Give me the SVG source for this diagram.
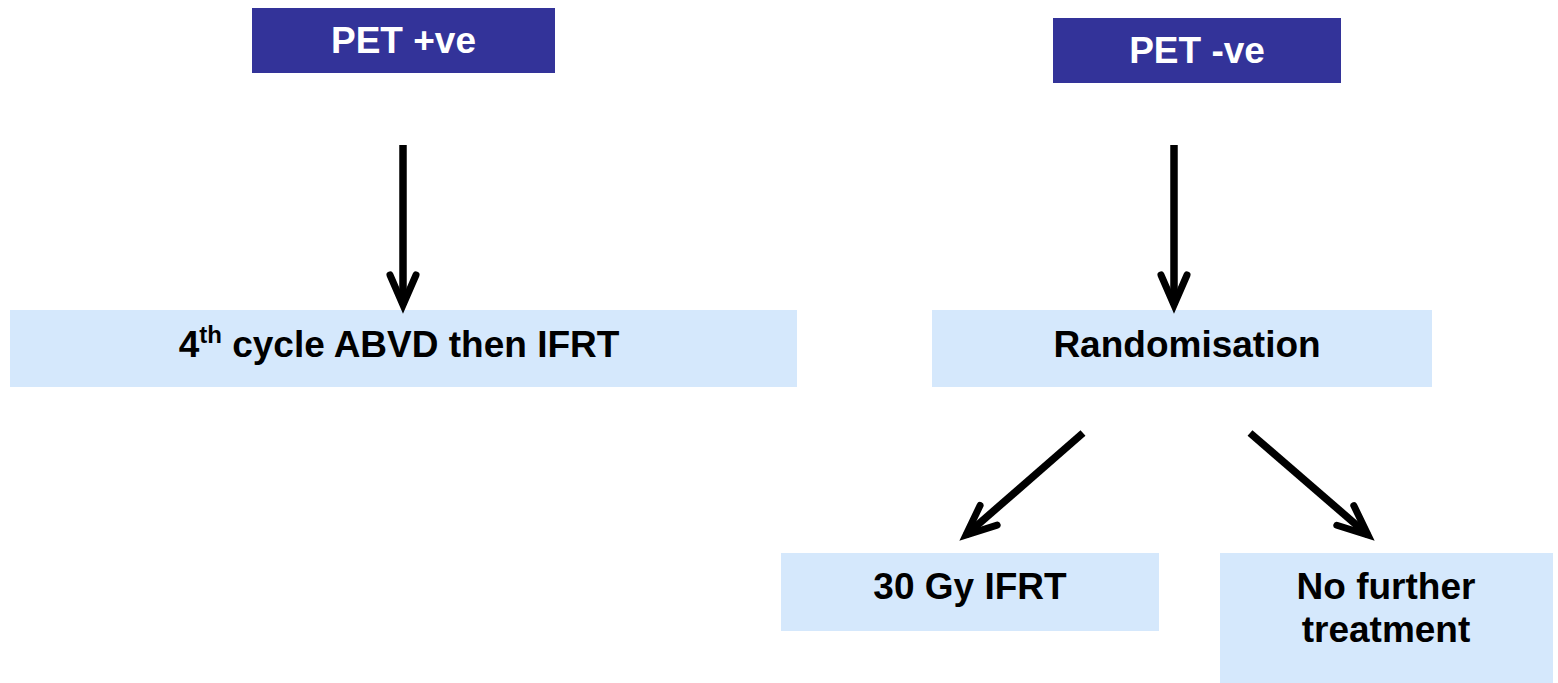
<svg xmlns="http://www.w3.org/2000/svg" width="1558" height="683" viewBox="0 0 1558 683">
<defs>
<marker id="chev" markerUnits="userSpaceOnUse" markerWidth="60" markerHeight="60" viewBox="-40 -30 50 60" refX="0" refY="0" orient="auto" overflow="visible">
<path d="M-30,-13 L0,0 L-30,13" fill="none" stroke="#000" stroke-width="7" stroke-linecap="round" stroke-linejoin="miter"/>
</marker>
</defs>
<style>
.dark{fill:#333399}
.light{fill:#D5E8FC}
.wt{fill:#fff;font-family:"Liberation Sans",Arial,sans-serif;font-weight:bold;font-size:37px;text-anchor:middle}
.bt{fill:#000;font-family:"Liberation Sans",Arial,sans-serif;font-weight:bold;font-size:37px;text-anchor:middle}
.conn{stroke:#000;stroke-width:7.5;fill:none;marker-end:url(#chev)}
</style>
<rect width="1558" height="683" fill="#fff"/>
<g id="pet-pos"><rect class="dark" x="252" y="8" width="303" height="65"/><text class="wt" x="403.5" y="53">PET +ve</text></g>
<g id="pet-neg"><rect class="dark" x="1053" y="18" width="288" height="65"/><text class="wt" x="1197" y="63">PET -ve</text></g>
<g id="abvd"><rect class="light" x="10" y="310" width="787" height="77"/><text class="bt" x="399" y="357">4<tspan font-size="24" dy="-14">th</tspan><tspan dy="14"> cycle ABVD then IFRT</tspan></text></g>
<g id="random"><rect class="light" x="932" y="310" width="500" height="77"/><text class="bt" x="1187" y="357">Randomisation</text></g>
<g id="ifrt"><rect class="light" x="781" y="553" width="378" height="78"/><text class="bt" x="970" y="599">30 Gy IFRT</text></g>
<g id="nofurther"><rect class="light" x="1220" y="553" width="333" height="130"/><text class="bt" x="1386" y="599">No further</text><text class="bt" x="1386" y="642">treatment</text></g>
<g id="connectors">
<line class="conn" x1="403" y1="145" x2="403" y2="305"/>
<line class="conn" x1="1174" y1="145" x2="1174" y2="305"/>
<line class="conn" x1="1083" y1="433" x2="966" y2="535"/>
<line class="conn" x1="1250" y1="433" x2="1368" y2="535"/>
</g>
</svg>
